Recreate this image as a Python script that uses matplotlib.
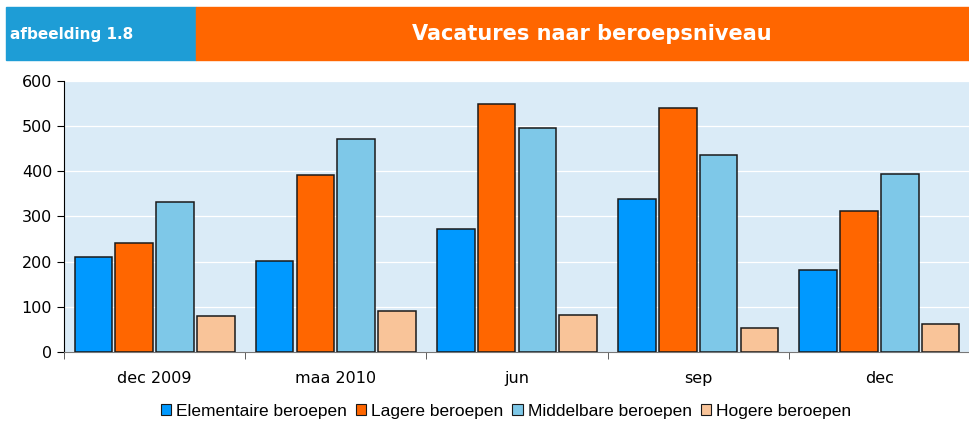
import matplotlib.pyplot as plt
import matplotlib.patches as mpatches
import numpy as np

categories = ["dec 2009", "maa 2010", "jun", "sep", "dec"]
series = ["Elementaire beroepen", "Lagere beroepen", "Middelbare beroepen", "Hogere beroepen"]
elementaire = [210, 201, 272, 339, 182]
lagere = [241, 392, 549, 540, 312]
middelbare = [332, 472, 496, 436, 394]
hogere = [80, 91, 82, 53, 62]
colors = ["#0099FF", "#FF6600", "#7EC8E8", "#F9C499"]

fig = plt.figure(figsize=(9.7, 4.23), dpi=100)

# header boxes
fig.patches.append(mpatches.Rectangle((6/970, 1-60/423), 190/970, 53/423,
                                      transform=fig.transFigure, color="#1E9DD6", zorder=0))
fig.patches.append(mpatches.Rectangle((196/970, 1-60/423), 774/970, 53/423,
                                      transform=fig.transFigure, color="#FF6600", zorder=0))
fig.text(10/970, 1-34/423, "afbeelding 1.8", color="white", fontsize=11, fontweight="bold",
         va="center", ha="left")
fig.text(592/970, 1-34/423, "Vacatures naar beroepsniveau", color="white", fontsize=15,
         fontweight="bold", va="center", ha="center")

ax = fig.add_axes([64/970, 1-352/423, 906/970, 271/423])
ax.set_facecolor("#DAEBF7")

x = np.arange(len(categories))
data = [elementaire, lagere, middelbare, hogere]
for i, vals in enumerate(data):
    ax.bar(x + (i-1.5)*0.225, vals, width=0.208, color=colors[i], edgecolor="#1a1a1a",
           linewidth=1.1, label=series[i], zorder=3)

ax.set_xlim(-0.5, 4.5)
ax.set_ylim(0, 600)
ax.set_yticks(range(0, 601, 100))
ax.yaxis.grid(True, color="white", linewidth=0.9, zorder=0)
ax.set_xticks(x)
ax.set_xticklabels(categories, fontsize=11.5)
ax.tick_params(axis="x", length=0, pad=14)
ax.set_xticks(np.arange(-0.5, 5, 1), minor=True)
ax.tick_params(axis="x", which="minor", length=5, color="#444444")
ax.tick_params(axis="y", labelsize=11.5, length=5)
for s in ["top", "right"]:
    ax.spines[s].set_visible(False)
ax.spines["bottom"].set_color("#777777")
ax.spines["left"].set_color("black")

leg = fig.legend(loc="center", bbox_to_anchor=(506/970, 1-411/423), ncol=4, frameon=False,
                 prop={"family": "Liberation Sans", "size": 12.5}, handlelength=0.6,
                 handleheight=0.6, handletextpad=0.3, columnspacing=0.5)
for h in leg.legend_handles:
    h.set_linewidth(0.8)

fig.savefig("out.png", dpi=100)
